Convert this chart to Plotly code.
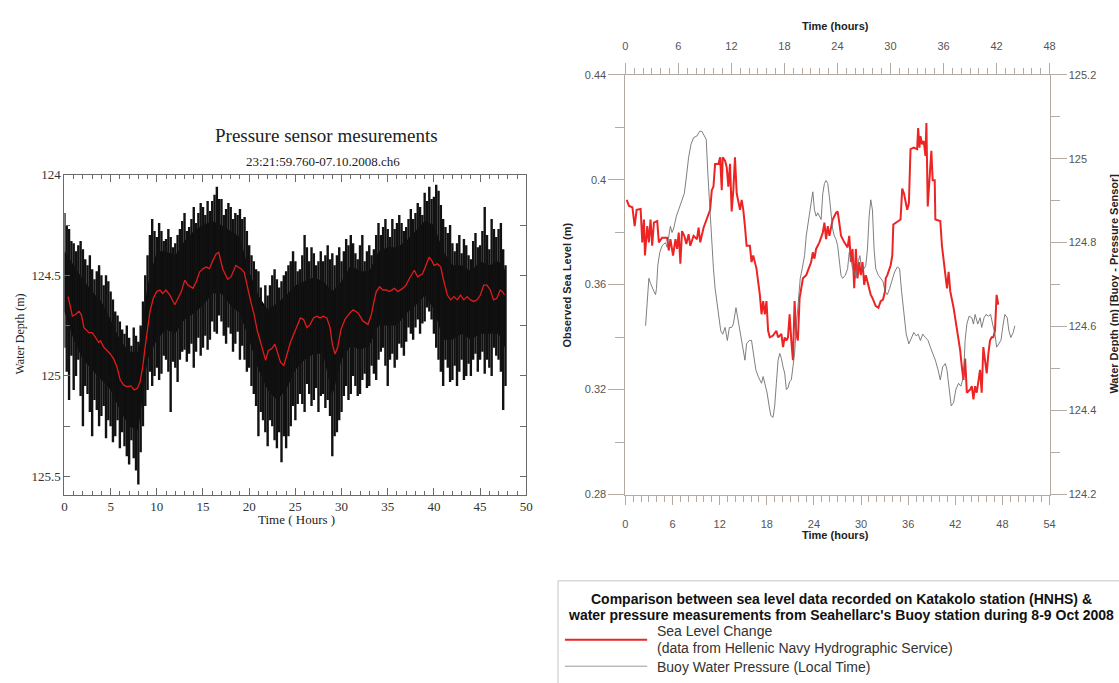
import plotly.graph_objects as go

W, H = 1119, 683

# ---------------- Left panel: pressure sensor ----------------
# smoothed record (red), hours / water depth (m)
ps_h = [0.40, 0.86, 1.20, 1.57, 1.83, 2.11, 2.65, 3.00, 3.36, 3.72,
        3.90, 4.26, 4.61, 4.97, 5.33, 5.69, 6.04, 6.40, 6.76, 7.19,
        7.55, 7.90, 8.19, 8.47, 8.73, 8.98, 9.26, 9.62, 9.98, 10.34,
        10.62, 10.98, 11.41, 11.95, 12.30, 12.66, 13.02, 13.38, 13.91, 14.27,
        14.63, 14.99, 15.34, 15.70, 16.06, 16.42, 16.70, 17.13, 17.67, 18.03,
        18.56, 19.10, 19.45, 19.81, 20.17, 20.53, 20.89, 21.24, 21.60, 21.78,
        22.07, 22.42, 22.78, 23.03, 23.39, 23.75, 24.11, 24.46, 24.82, 25.18,
        25.54, 25.89, 26.25, 26.61, 26.96, 27.32, 27.68, 28.04, 28.40, 28.76,
        29.00, 29.29, 29.58, 29.94, 30.36, 30.90, 31.26, 31.79, 32.33, 32.86,
        33.23, 33.51, 33.76, 34.12, 34.48, 34.84, 35.19, 35.73, 36.09, 36.62,
        36.98, 37.34, 37.88, 38.23, 38.77, 39.13, 39.48, 39.77, 40.02, 40.38,
        40.74, 41.09, 41.45, 41.81, 42.17, 42.52, 42.88, 43.24, 43.60, 43.96,
        44.31, 44.67, 45.03, 45.39, 45.74, 46.10, 46.46, 46.81, 47.18, 47.42,
        47.64]
ps_v = [124.606, 124.703, 124.695, 124.679, 124.695, 124.760, 124.785, 124.785, 124.809, 124.834,
        124.826, 124.858, 124.874, 124.891, 124.915, 124.956, 125.021, 125.045, 125.054, 125.050,
        125.070, 125.062, 125.029, 124.956, 124.858, 124.760, 124.679, 124.614, 124.581, 124.573,
        124.590, 124.573, 124.598, 124.646, 124.614, 124.581, 124.524, 124.549, 124.565, 124.532,
        124.484, 124.467, 124.459, 124.467, 124.427, 124.394, 124.386, 124.467, 124.520, 124.508,
        124.451, 124.467, 124.484, 124.565, 124.630, 124.695, 124.777, 124.834, 124.891, 124.923,
        124.874, 124.866, 124.842, 124.883, 124.932, 124.948, 124.891, 124.834, 124.793, 124.752,
        124.712, 124.720, 124.760, 124.744, 124.712, 124.703, 124.712, 124.703, 124.712, 124.760,
        124.842, 124.891, 124.858, 124.769, 124.720, 124.687, 124.671, 124.687, 124.728, 124.744,
        124.695, 124.630, 124.581, 124.557, 124.573, 124.573, 124.581, 124.565, 124.581, 124.565,
        124.549, 124.516, 124.475, 124.508, 124.492, 124.451, 124.410, 124.427, 124.451, 124.443,
        124.459, 124.532, 124.598, 124.622, 124.606, 124.622, 124.598, 124.622, 124.606, 124.622,
        124.630, 124.622, 124.598, 124.549, 124.549, 124.573, 124.622, 124.614, 124.573, 124.581,
        124.598]

# raw record, dense core band (hourly)
core_h = [0, 1, 2, 3, 4, 5, 6, 7, 8, 9, 10, 11, 12, 13, 14, 15, 16, 17, 18, 19,
          20, 21, 22, 23, 24, 25, 26, 27, 28, 29, 30, 31, 32, 33, 34, 35, 36, 37, 38, 39,
          40, 41, 42, 43, 44, 45, 46, 47, 47.8]
core_top = [124.38, 124.45, 124.52, 124.58, 124.63, 124.72, 124.82, 124.88, 124.88, 124.55,
            124.38, 124.38, 124.40, 124.33, 124.28, 124.25, 124.23, 124.25, 124.28, 124.31,
            124.48, 124.60, 124.67, 124.64, 124.60, 124.55, 124.53, 124.51, 124.53, 124.58,
            124.53, 124.45, 124.48, 124.48, 124.38, 124.36, 124.36, 124.33, 124.28, 124.23,
            124.25, 124.38, 124.45, 124.45, 124.48, 124.43, 124.45, 124.43, 124.48]
core_bot = [124.68, 124.82, 124.92, 124.97, 125.02, 125.07, 125.17, 125.25, 125.27, 124.92,
            124.82, 124.77, 124.79, 124.72, 124.69, 124.65, 124.59, 124.59, 124.65, 124.69,
            124.82, 124.97, 125.07, 125.12, 125.07, 124.97, 124.92, 124.89, 124.89, 125.10,
            124.92, 124.85, 124.87, 124.85, 124.75, 124.75, 124.75, 124.69, 124.65, 124.60,
            124.67, 124.82, 124.82, 124.79, 124.82, 124.79, 124.79, 124.79, 124.87]

# raw record, oscillation extremes on the half hour
spike_h = [i * 0.5 for i in range(96)]
spike_top = [124.19, 124.27, 124.34, 124.35, 124.37, 124.45, 124.47, 124.48, 124.50, 124.50,
             124.58, 124.68, 124.73, 124.79, 124.81, 124.76, 124.83, 124.63, 124.40, 124.22,
             124.31, 124.28, 124.32, 124.31, 124.34, 124.27, 124.19, 124.26, 124.16, 124.19,
             124.16, 124.13, 124.13, 124.06, 124.12, 124.17, 124.16, 124.19, 124.17, 124.21,
             124.35, 124.43, 124.48, 124.65, 124.60, 124.50, 124.52, 124.53, 124.48, 124.43,
             124.43, 124.47, 124.30, 124.43, 124.39, 124.43, 124.43, 124.35, 124.39, 124.40,
             124.43, 124.32, 124.30, 124.39, 124.35, 124.43, 124.35, 124.37, 124.24, 124.26,
             124.27, 124.22, 124.24, 124.24, 124.26, 124.17, 124.19, 124.16, 124.09, 124.06,
             124.11, 124.08, 124.22, 124.29, 124.34, 124.34, 124.39, 124.35, 124.42, 124.29,
             124.35, 124.16, 124.37, 124.27, 124.27, 124.37]
spike_bot = [124.86, 125.12, 125.07, 124.92, 125.25, 125.09, 125.30, 125.17, 125.20, 125.31,
             125.25, 125.30, 125.36, 125.35, 125.44, 125.41, 125.54, 125.25, 125.07, 125.05,
             124.96, 124.99, 124.92, 125.18, 124.96, 124.92, 124.87, 124.89, 124.96, 124.81,
             124.86, 124.87, 124.73, 124.79, 124.73, 124.84, 124.79, 124.84, 124.92, 124.92,
             124.96, 125.09, 125.30, 125.22, 125.35, 125.25, 125.36, 125.43, 125.36, 125.25,
             125.22, 125.09, 125.18, 125.09, 125.12, 125.18, 125.09, 125.12, 125.40, 125.28,
             125.18, 125.05, 125.09, 125.05, 125.09, 124.99, 125.05, 124.99, 124.92, 124.86,
             125.05, 124.89, 124.92, 124.86, 124.83, 124.79, 124.76, 124.79, 124.73, 124.68,
             124.79, 124.92, 125.05, 124.96, 125.02, 125.05, 124.92, 125.00, 125.00, 124.89,
             124.92, 124.99, 124.96, 124.86, 124.92, 125.17]

# raw record, oscillation extremes at quarter past / quarter to
mid_h = [0.25 + i * 0.5 for i in range(96)]
mid_top = [124.25, 124.33, 124.38, 124.33, 124.42, 124.40, 124.52, 124.45, 124.55, 124.53,
           124.62, 124.70, 124.77, 124.75, 124.85, 124.80, 124.75, 124.50, 124.30, 124.28,
           124.24, 124.33, 124.27, 124.36, 124.30, 124.23, 124.28, 124.22, 124.24, 124.14,
           124.20, 124.18, 124.10, 124.12, 124.20, 124.14, 124.22, 124.20, 124.22, 124.28,
           124.40, 124.47, 124.56, 124.55, 124.55, 124.47, 124.56, 124.50, 124.45, 124.38,
           124.48, 124.40, 124.36, 124.36, 124.45, 124.38, 124.40, 124.42, 124.45, 124.36,
           124.38, 124.35, 124.34, 124.42, 124.30, 124.38, 124.40, 124.30, 124.30, 124.22,
           124.31, 124.27, 124.20, 124.28, 124.22, 124.22, 124.14, 124.20, 124.13, 124.12,
           124.05, 124.15, 124.26, 124.25, 124.38, 124.30, 124.32, 124.40, 124.33, 124.36,
           124.28, 124.30, 124.22, 124.31, 124.24, 124.45]
mid_bot = [124.98, 124.90, 125.00, 125.10, 125.05, 125.18, 125.12, 125.25, 125.15, 125.22,
           125.33, 125.22, 125.28, 125.40, 125.32, 125.47, 125.38, 125.15, 124.98, 125.00,
           125.02, 124.90, 124.98, 124.93, 125.03, 124.88, 124.93, 124.84, 124.88, 124.90,
           124.80, 124.82, 124.78, 124.70, 124.80, 124.76, 124.88, 124.78, 124.85, 124.98,
           125.05, 125.15, 125.18, 125.28, 125.22, 125.32, 125.28, 125.30, 125.30, 125.15,
           125.14, 125.14, 125.04, 125.15, 125.06, 125.10, 125.16, 125.20, 125.30, 125.22,
           125.10, 125.12, 125.00, 125.10, 125.02, 125.06, 124.95, 125.02, 124.88, 124.95,
           124.92, 124.96, 124.84, 124.90, 124.76, 124.82, 124.72, 124.74, 124.66, 124.72,
           124.86, 124.98, 124.92, 125.03, 124.95, 124.98, 125.02, 124.94, 124.92, 124.98,
           124.88, 124.92, 125.00, 124.90, 124.98, 125.05]

# ---------------- Right panel: comparison ----------------
sl_h = [0.17, 0.46, 0.89, 1.18, 1.43, 1.94, 2.15, 2.36, 2.49, 2.78,
        2.99, 3.20, 3.41, 3.63, 4.05, 4.26, 4.68, 5.31, 5.52, 5.73,
        6.07, 6.37, 6.58, 6.79, 7.00, 7.21, 7.50, 7.76, 8.05, 8.26,
        8.68, 9.11, 9.32, 9.53, 9.95, 10.37, 10.79, 11.00, 11.21, 11.42,
        11.85, 12.06, 12.27, 12.39, 12.69, 12.90, 13.11, 13.32, 13.53, 13.74,
        13.95, 14.17, 14.38, 14.59, 14.80, 15.01, 15.22, 15.43, 15.85, 16.06,
        16.27, 16.69, 17.12, 17.33, 17.54, 17.75, 17.96, 18.17, 18.38, 18.80,
        19.22, 19.44, 19.86, 20.07, 20.28, 20.49, 20.70, 20.91, 21.12, 21.33,
        21.54, 21.75, 21.96, 22.18, 22.39, 22.60, 23.02, 23.44, 23.65, 23.86,
        24.07, 24.28, 24.70, 25.13, 25.34, 25.55, 25.76, 25.97, 26.39, 26.81,
        27.02, 27.23, 27.45, 27.87, 28.29, 28.50, 28.71, 28.92, 29.13, 29.34,
        29.55, 29.76, 29.97, 30.19, 30.40, 30.61, 30.82, 31.03, 31.24, 31.45,
        31.87, 32.21, 32.50, 32.80, 33.05, 33.14, 33.35, 33.77, 33.98, 34.11,
        34.61, 35.03, 35.24, 35.46, 35.88, 36.09, 36.30, 36.72, 37.14, 37.27,
        37.44, 37.56, 37.77, 37.98, 38.20, 38.32, 38.49, 38.62, 38.83, 38.95,
        39.12, 39.38, 39.46, 40.09, 40.30, 40.51, 40.73, 40.94, 41.15, 41.36,
        41.78, 42.20, 42.62, 42.83, 43.04, 43.25, 43.47, 43.89, 44.10, 44.31,
        44.52, 44.73, 44.94, 45.15, 45.36, 45.57, 45.78, 46.00, 46.21, 46.42,
        46.63, 46.84, 47.05, 47.26, 47.47]
sl_v = [0.3923, 0.3900, 0.3895, 0.3823, 0.3885, 0.3888, 0.3761, 0.3848, 0.3711, 0.3823,
        0.3761, 0.3848, 0.3748, 0.3836, 0.3842, 0.3761, 0.3779, 0.3779, 0.3730, 0.3773,
        0.3711, 0.3773, 0.3736, 0.3798, 0.3680, 0.3804, 0.3786, 0.3755, 0.3792, 0.3748,
        0.3786, 0.3773, 0.3817, 0.3761, 0.3817, 0.3848, 0.3885, 0.3960, 0.3973, 0.4060,
        0.4060, 0.4085, 0.3960, 0.4085, 0.4072, 0.4047, 0.3973, 0.4060, 0.3879, 0.3960,
        0.4085, 0.3948, 0.3910, 0.3885, 0.3923, 0.3885, 0.3823, 0.3748, 0.3748, 0.3686,
        0.3711, 0.3661, 0.3561, 0.3487, 0.3537, 0.3487, 0.3537, 0.3424, 0.3399, 0.3406,
        0.3424, 0.3399, 0.3412, 0.3362, 0.3399, 0.3387, 0.3399, 0.3487, 0.3387, 0.3312,
        0.3537, 0.3412, 0.3387, 0.3549, 0.3586, 0.3624, 0.3636, 0.3674, 0.3686, 0.3723,
        0.3699, 0.3736, 0.3761, 0.3798, 0.3836, 0.3773, 0.3823, 0.3786, 0.3848, 0.3873,
        0.3879, 0.3836, 0.3786, 0.3761, 0.3742, 0.3786, 0.3686, 0.3736, 0.3586, 0.3736,
        0.3624, 0.3686, 0.3636, 0.3686, 0.3599, 0.3636, 0.3611, 0.3586, 0.3561, 0.3549,
        0.3518, 0.3512, 0.3537, 0.3543, 0.3574, 0.3624, 0.3636, 0.3674, 0.3711, 0.3829,
        0.3838, 0.3848, 0.3966, 0.3948, 0.3885, 0.3910, 0.4116, 0.4122, 0.4116, 0.4197,
        0.4122, 0.4166, 0.4135, 0.4147, 0.4091, 0.4216, 0.3898, 0.3960, 0.4072, 0.4110,
        0.3998, 0.3998, 0.3848, 0.3842, 0.3748, 0.3686, 0.3636, 0.3586, 0.3649, 0.3574,
        0.3512, 0.3437, 0.3350, 0.3287, 0.3237, 0.3318, 0.3188, 0.3200, 0.3213, 0.3163,
        0.3213, 0.3188, 0.3225, 0.3275, 0.3188, 0.3362, 0.3312, 0.3262, 0.3337, 0.3387,
        0.3399, 0.3399, 0.3424, 0.3561, 0.3524]

bw_h = [2.57, 2.78, 2.99, 3.20, 3.41, 3.63, 3.84, 3.96, 4.13, 4.38,
        4.68, 5.10, 5.31, 5.52, 5.73, 5.94, 6.16, 6.49, 6.79, 7.21,
        7.50, 7.76, 8.05, 8.35, 8.68, 9.11, 9.44, 9.74, 10.03, 10.29,
        10.50, 10.79, 11.00, 11.21, 11.42, 11.64, 11.85, 12.14, 12.39, 12.69,
        12.98, 13.24, 13.53, 13.74, 14.08, 14.38, 14.67, 15.01, 15.22, 15.43,
        15.77, 16.06, 16.27, 16.61, 16.91, 17.12, 17.33, 17.54, 17.75, 18.04,
        18.30, 18.51, 18.80, 19.01, 19.22, 19.44, 19.65, 19.86, 20.07, 20.28,
        20.49, 20.70, 20.91, 21.12, 21.33, 21.54, 21.75, 21.96, 22.26, 22.51,
        22.81, 23.02, 23.36, 23.65, 23.86, 24.07, 24.28, 24.49, 24.70, 24.92,
        25.13, 25.34, 25.55, 25.76, 25.97, 26.18, 26.39, 26.60, 26.81, 27.02,
        27.23, 27.45, 27.66, 27.99, 28.29, 28.50, 28.71, 28.92, 29.13, 29.34,
        29.64, 29.85, 30.10, 30.40, 30.61, 30.82, 31.03, 31.24, 31.45, 31.66,
        31.87, 32.21, 32.50, 32.80, 33.05, 33.35, 33.64, 33.98, 34.27, 34.61,
        34.91, 35.16, 35.46, 35.75, 36.09, 36.42, 36.72, 37.02, 37.27, 37.56,
        37.86, 38.20, 38.53, 38.83, 39.12, 39.46, 39.80, 40.09, 40.39, 40.73,
        40.94, 41.23, 41.48, 41.78, 42.07, 42.41, 42.71, 43.04, 43.25, 43.47,
        43.76, 44.10, 44.31, 44.52, 44.86, 45.15, 45.36, 45.66, 45.91, 46.21,
        46.50, 46.75, 47.05, 47.26, 47.55, 47.81, 48.10, 48.31, 48.61, 48.82,
        49.07, 49.37, 49.58]
bw_v = [124.602, 124.660, 124.715, 124.703, 124.691, 124.684, 124.676, 124.691, 124.746, 124.777,
        124.793, 124.800, 124.789, 124.816, 124.839, 124.824, 124.835, 124.863, 124.878, 124.902,
        124.917, 124.956, 125.003, 125.034, 125.050, 125.054, 125.065, 125.065, 125.054, 125.046,
        124.964, 124.863, 124.793, 124.738, 124.691, 124.660, 124.629, 124.590, 124.582, 124.598,
        124.567, 124.598, 124.598, 124.606, 124.645, 124.613, 124.582, 124.536, 124.520, 124.559,
        124.567, 124.567, 124.536, 124.497, 124.481, 124.473, 124.465, 124.481, 124.465, 124.442,
        124.411, 124.388, 124.384, 124.411, 124.465, 124.520, 124.536, 124.524, 124.504, 124.489,
        124.450, 124.454, 124.469, 124.473, 124.504, 124.536, 124.598, 124.652, 124.715, 124.738,
        124.769, 124.816, 124.855, 124.886, 124.921, 124.878, 124.863, 124.871, 124.863, 124.855,
        124.917, 124.941, 124.948, 124.941, 124.909, 124.863, 124.832, 124.816, 124.808, 124.793,
        124.754, 124.722, 124.715, 124.722, 124.738, 124.777, 124.761, 124.738, 124.730, 124.715,
        124.754, 124.769, 124.738, 124.738, 124.746, 124.785, 124.863, 124.902, 124.878, 124.785,
        124.738, 124.722, 124.715, 124.707, 124.684, 124.676, 124.691, 124.715, 124.730, 124.742,
        124.738, 124.684, 124.629, 124.582, 124.559, 124.574, 124.586, 124.578, 124.582, 124.567,
        124.582, 124.574, 124.567, 124.551, 124.536, 124.520, 124.497, 124.473, 124.504, 124.512,
        124.497, 124.442, 124.411, 124.419, 124.450, 124.465, 124.458, 124.481, 124.567, 124.606,
        124.625, 124.621, 124.606, 124.629, 124.606, 124.621, 124.598, 124.621, 124.629, 124.625,
        124.629, 124.606, 124.582, 124.551, 124.559, 124.567, 124.606, 124.629, 124.621, 124.590,
        124.574, 124.586, 124.602]

left_yticks = [124, 124.5, 125, 125.5]
sea_ticks = [0.28, 0.32, 0.36, 0.40, 0.44]
depth_ticks = [124.2, 124.4, 124.6, 124.8, 125.0, 125.2]


def fx(p):
    return p / W


def fy(p):
    return 1 - p / H


SERIF = "Liberation Serif"
SANS = "Liberation Sans"
AX = "#b5aaa2"
LAX = "#6a6a6a"

fig = go.Figure()

# left panel traces
fig.add_trace(go.Scatter(
    x=core_h + core_h[::-1], y=core_top + core_bot[::-1],
    fill="toself", fillcolor="#000000", mode="lines", line=dict(width=0),
    xaxis="x", yaxis="y", hoverinfo="skip", showlegend=False))
sx, sy = [], []
for t, a, b in zip(spike_h, spike_top, spike_bot):
    sx += [t, t, None]
    sy += [a, b, None]
for t, a, b in zip(mid_h, mid_top, mid_bot):
    sx += [t, t, None]
    sy += [a, b, None]
fig.add_trace(go.Scatter(x=sx, y=sy, mode="lines", line=dict(color="#111111", width=2.4),
                         xaxis="x", yaxis="y", hoverinfo="skip", showlegend=False))
fig.add_trace(go.Scatter(x=ps_h, y=ps_v, mode="lines", line=dict(color="#e01b1b", width=1.3),
                         xaxis="x", yaxis="y", showlegend=False))

# right panel traces
fig.add_trace(go.Scatter(x=bw_h, y=bw_v, mode="lines", line=dict(color="#707070", width=0.9),
                         xaxis="x2", yaxis="y3", showlegend=False))
fig.add_trace(go.Scatter(x=sl_h, y=sl_v, mode="lines", line=dict(color="#ee2424", width=2),
                         xaxis="x2", yaxis="y2", showlegend=False))
# empty trace so the top time axis gets drawn
fig.add_trace(go.Scatter(x=[], y=[], mode="lines", xaxis="x3", yaxis="y2",
                         showlegend=False, hoverinfo="skip"))

lfont = dict(family=SERIF, size=13, color="#333333")
rfont = dict(family=SANS, size=11, color="#555555")

fig.update_layout(
    width=W, height=H, autosize=False,
    margin=dict(l=0, r=0, t=0, b=0),
    paper_bgcolor="white", plot_bgcolor="white",
    showlegend=False,
    xaxis=dict(domain=[fx(62), fx(528)], anchor="y", range=[0, 50], dtick=5,
               ticks="inside", ticklen=7, tickcolor=LAX, showline=True, linecolor=LAX,
               linewidth=1, mirror="allticks", showgrid=False, zeroline=False,
               tickfont=lfont,
               minor=dict(dtick=1, ticks="inside", ticklen=4, tickcolor=LAX, showgrid=False)),
    yaxis=dict(domain=[fy(497), fy(171)], anchor="x", range=[125.59, 124],
               tickvals=left_yticks, ticktext=["124", "124.5", "125", "125.5"],
               ticks="inside", ticklen=6, tickcolor=LAX, showline=True, linecolor=LAX,
               linewidth=1, mirror="allticks", showgrid=False, zeroline=False,
               tickfont=lfont,
               minor=dict(dtick=0.25, ticks="inside", ticklen=6, tickcolor=LAX, showgrid=False)),
    xaxis2=dict(domain=[fx(628), fx(1056)], anchor="y2", range=[0, 54], dtick=6,
                ticks="outside", ticklen=9, tickcolor=AX, showline=True, linecolor=AX,
                showgrid=False, zeroline=False, tickfont=rfont, ticklabelstandoff=10,
                minor=dict(dtick=1, ticks="outside", ticklen=6, tickcolor=AX, showgrid=False)),
    xaxis3=dict(overlaying="x2", anchor="y2", side="top", range=[0, 48], dtick=6,
                ticks="outside", ticklen=11, tickcolor=AX, showline=True, linecolor=AX,
                showgrid=False, zeroline=False, tickfont=rfont, ticklabelstandoff=8,
                minor=dict(dtick=1, ticks="outside", ticklen=6, tickcolor=AX, showgrid=False)),
    yaxis2=dict(domain=[fy(497), fy(69)], anchor="x2", range=[0.28, 0.44],
                tickvals=sea_ticks, ticktext=["0.28", "0.32", "0.36", "0.4", "0.44"],
                ticks="outside", ticklen=16, tickcolor=AX, showline=True, linecolor=AX,
                showgrid=False, zeroline=False, tickfont=rfont,
                minor=dict(dtick=0.02, ticks="outside", ticklen=9, tickcolor=AX, showgrid=False)),
    yaxis3=dict(overlaying="y2", anchor="x2", side="right", range=[124.2, 125.2],
                tickvals=depth_ticks, ticktext=["124.2", "124.4", "124.6", "124.8", "125", "125.2"],
                ticks="outside", ticklen=16, tickcolor=AX, showline=True, linecolor=AX,
                showgrid=False, zeroline=False, tickfont=rfont,
                minor=dict(dtick=0.1, ticks="outside", ticklen=9, tickcolor=AX, showgrid=False)),
)

ann = []


def add_text(text, x, y, size, family, color="#222222", angle=0, xanchor="center", bold=False):
    if bold:
        text = "<b>" + text + "</b>"
    ann.append(dict(text=text, x=fx(x), y=fy(y), xref="paper", yref="paper",
                    xanchor=xanchor, yanchor="middle", showarrow=False, textangle=angle,
                    font=dict(family=family, size=size, color=color)))


add_text("Pressure sensor mesurements", 326, 131, 19, SERIF)
add_text("23:21:59.760-07.10.2008.ch6", 323, 157, 13, SERIF)
add_text("Time ( Hours )", 296, 522, 13, SERIF)
add_text("Water Depth (m)", 17, 333, 12, SERIF, angle=-90)

add_text("Time (hours)", 840, 19, 11, SANS, bold=True)
add_text("Time (hours)", 840, 538, 11, SANS, bold=True)
add_text("Observed Sea Level (m)", 569, 283, 11, SANS, angle=-90, bold=True)
add_text("Water Depth (m) [Buoy - Pressure Sensor]", 1121, 282, 11, SANS, angle=-90, bold=True)

# legend box
add_text("Comparison between sea level data recorded on Katakolo station (HNHS) &", 846, 603, 14, SANS, bold=True, color="#111111")
add_text("water pressure measurements from Seahellarc's Buoy station during 8-9 Oct 2008", 846, 620, 14, SANS, bold=True, color="#111111")
add_text("Sea Level Change", 658, 636, 14, SANS, xanchor="left", color="#333333")
add_text("(data from Hellenic Navy Hydrographic Service)", 658, 653, 14, SANS, xanchor="left", color="#333333")
add_text("Buoy Water Pressure (Local Time)", 658, 673, 14, SANS, xanchor="left", color="#333333")

shapes = [
    dict(type="rect", xref="paper", yref="paper", x0=fx(560), x1=fx(1130), y0=fy(585), y1=fy(690),
         line=dict(color="#c4c4c4", width=1), fillcolor="rgba(0,0,0,0)", layer="below"),
    dict(type="line", xref="paper", yref="paper", x0=fx(567), x1=fx(650), y0=fy(645), y1=fy(645),
         line=dict(color="#ee2424", width=2)),
    dict(type="line", xref="paper", yref="paper", x0=fx(567), x1=fx(650), y0=fy(672), y1=fy(672),
         line=dict(color="#9a9a9a", width=1)),
]

fig.update_layout(annotations=ann, shapes=shapes)
fig.write_html("out.html")
